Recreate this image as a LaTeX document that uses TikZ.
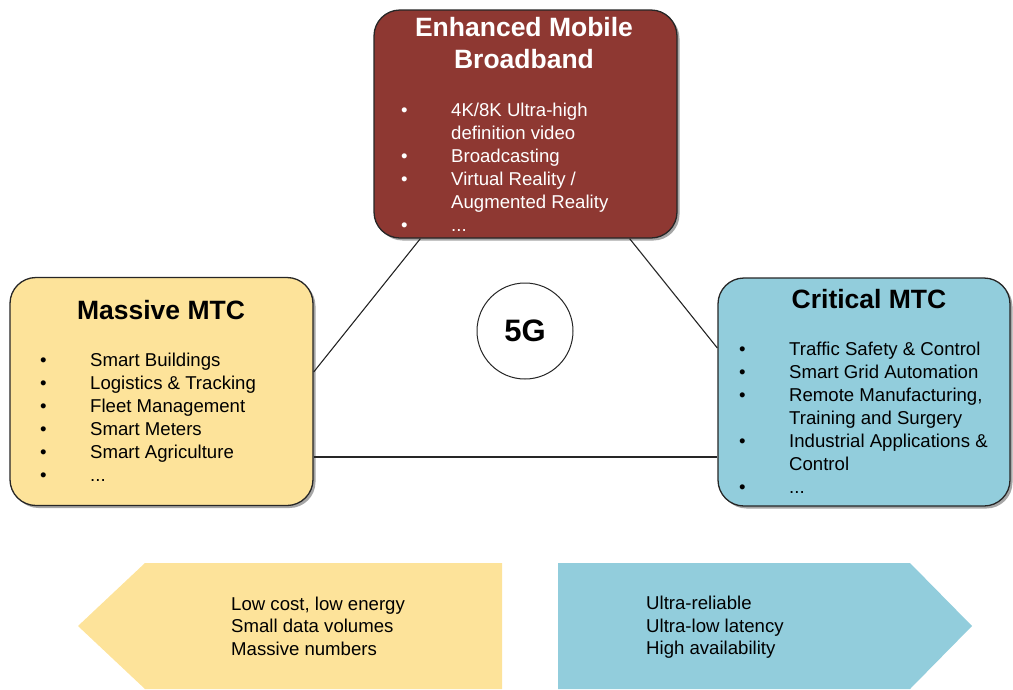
\documentclass[tikz,border=0pt]{standalone}
\usepackage{fontspec}
\setmainfont{Liberation Sans}
\usetikzlibrary{shadows}
\definecolor{embbred}{HTML}{8E3832}
\definecolor{mmtcyellow}{HTML}{FDE39A}
\definecolor{cmtcblue}{HTML}{92CDDC}
\tikzset{
  usecase/.style={draw=black!85, line width=1.3pt, rounded corners=26pt,
    drop shadow={shadow xshift=2.5pt, shadow yshift=-2.5pt, opacity=0.35, fill=black},
    inner sep=0pt},
  title/.style={font=\fontsize{26.5}{32}\selectfont\bfseries, align=center, inner sep=0pt},
  items/.style={anchor=north west, inner sep=0pt, font=\fontsize{18.6}{23}\selectfont},
  link/.style={line width=1.1pt, draw=black!85},
  trait/.style={anchor=west, align=left, inner sep=0pt, font=\fontsize{18.6}{22.5}\selectfont}
}
\newcommand{\bul}{\textbullet}
\begin{document}
\begin{tikzpicture}[x=1pt,y=-1pt]
\useasboundingbox (0,0) rectangle (1013,689);

% use-case boxes
\node[usecase, fill=embbred, minimum width=303pt, minimum height=228pt] (embb) at (525.5,124) {};
\node[usecase, fill=mmtcyellow, minimum width=303pt, minimum height=228pt] (mmtc) at (161.5,391.5) {};
\node[usecase, fill=cmtcblue, minimum width=292pt, minimum height=228pt] (cmtc) at (864,392) {};

% titles
\node[title, text=white] (embbt) at (524,43) {Enhanced Mobile\\Broadband};
\node[title] (mmtct) at (161,310) {Massive MTC};
\node[title] (cmtct) at (869,299) {Critical MTC};

% bullet lists
\node[items, text=white] (embbl) at (401,100) {%
  \begin{tabular}{@{}p{50pt}@{}l@{}}
  \bul & 4K/8K Ultra-high\\
       & definition video\\
  \bul & Broadcasting\\
  \bul & Virtual Reality /\\
       & Augmented Reality\\
  \bul & ...
  \end{tabular}};
\node[items] (mmtcl) at (40,350) {%
  \begin{tabular}{@{}p{50pt}@{}l@{}}
  \bul & Smart Buildings\\
  \bul & Logistics \& Tracking\\
  \bul & Fleet Management\\
  \bul & Smart Meters\\
  \bul & Smart Agriculture\\
  \bul & ...
  \end{tabular}};
\node[items] (cmtcl) at (739,339) {%
  \begin{tabular}{@{}p{50pt}@{}l@{}}
  \bul & Traffic Safety \& Control\\
  \bul & Smart Grid Automation\\
  \bul & Remote Manufacturing,\\
       & Training and Surgery\\
  \bul & Industrial Applications \&\\
       & Control\\
  \bul & ...
  \end{tabular}};

% 5G hub
\node[circle, draw=black!85, line width=1pt, minimum size=96pt, inner sep=0pt,
      font=\fontsize{31}{34}\selectfont\bfseries] (hub) at (525,331) {5G};

% connectors between the use cases
\draw[link] ([xshift=47pt]embb.south west) -- ([yshift=19.5pt]mmtc.east);
\draw[link] ([xshift=-48pt]embb.south east) -- ([yshift=44pt]cmtc.west);
\draw[link] ([yshift=-65.5pt]mmtc.east) -- ([yshift=-65pt]cmtc.west);

% requirement arrows
\fill[mmtcyellow] (78,626) -- (145,563) -- (502,563) -- (502,689) -- (145,689) -- cycle;
\fill[cmtcblue] (558,563) -- (910,563) -- (972,626) -- (910,689) -- (558,689) -- cycle;
\node[trait] (mmtcreq) at (231,626) {Low cost, low energy\\Small data volumes\\Massive numbers};
\node[trait] (cmtcreq) at (646,627.5) {Ultra-reliable\\Ultra-low latency\\High availability};
\end{tikzpicture}
\end{document}
